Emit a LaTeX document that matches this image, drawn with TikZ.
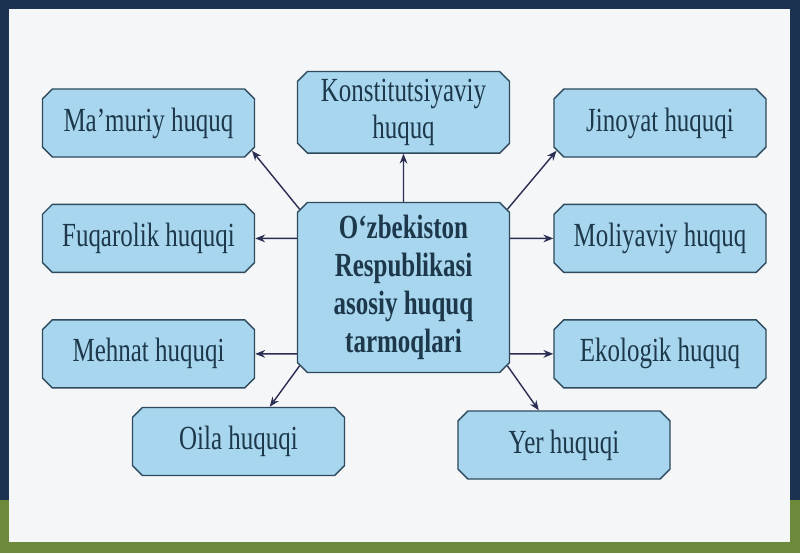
\documentclass[tikz,border=0pt]{standalone}
\usepackage{fontspec}
\setmainfont{Liberation Serif}[FakeStretch=0.74]
\usetikzlibrary{shapes.misc, positioning, arrows.meta}
\definecolor{boxFill}{RGB}{168,214,238}
\definecolor{boxLine}{RGB}{46,74,92}
\definecolor{boxText}{RGB}{28,56,74}
\definecolor{arrowLine}{RGB}{43,46,82}
\definecolor{slideNavy}{RGB}{27,50,80}
\definecolor{slideGreen}{RGB}{108,138,58}
\definecolor{slidePanel}{RGB}{244,246,248}
\tikzset{branch/.style = {chamfered rectangle, chamfered rectangle xsep=3.5pt,
    chamfered rectangle ysep=3.5pt, draw=boxLine, line width=1pt, fill=boxFill,
    text=boxText, minimum width=5.3cm, minimum height=1.7cm, inner sep=2pt,
    align=center, font=\fontsize{24}{26}\selectfont}}
\tikzset{hub/.style = {branch, minimum height=4.25cm,
    font=\fontsize{24}{27}\selectfont\bfseries}}
\tikzset{link/.style = {->, color=arrowLine, line width=1pt}}

\begin{document}
\begin{tikzpicture}[x=0.025cm, y=-0.025cm, node distance=1.15cm,
    >={Stealth[length=7pt,width=5.5pt]}]
      % slide frame
      \useasboundingbox (0,0) rectangle (800,553);
      \fill[slideNavy] (0,0) rectangle (800,553);
      \fill[slideGreen] (0,500) rectangle (800,553);
      \fill[slidePanel] (9,9) rectangle (790,542);

      \node[hub] (huquqTarmoqlari) at (403.5,287.5)
        {O‘zbekiston\\Respublikasi\\asosiy huquq\\tarmoqlari};
      \node[branch, minimum height=2cm] (konstitutsiya)
        [above = 1.2cm of huquqTarmoqlari] {Konstitutsiyaviy\\huquq};

      \node[branch] (mamuriy) at (148.5,123) {Ma’muriy huquq};
      \node[branch] (fuqarolik) [below = of mamuriy] {Fuqarolik huquqi};
      \node[branch] (mehnat) [below = of fuqarolik] {Mehnat huquqi};

      \node[branch] (jinoyat) at (660,123) {Jinoyat huquqi};
      \node[branch] (moliyaviy) [below = of jinoyat] {Moliyaviy huquq};
      \node[branch] (ekologik) [below = of moliyaviy] {Ekologik huquq};

      \node[branch] (oila) at (238.5,441.5) {Oila huquqi};
      \node[branch] (yer) at (564,445) {Yer huquqi};

      \path (huquqTarmoqlari.143) edge[link] (mamuriy.-15)
        (huquqTarmoqlari) edge[link] (konstitutsiya)
        (huquqTarmoqlari.37) edge[link] (jinoyat.195)
        (huquqTarmoqlari.west |- fuqarolik) edge[link] (fuqarolik)
        (huquqTarmoqlari.east |- moliyaviy) edge[link] (moliyaviy)
        (huquqTarmoqlari.west |- mehnat) edge[link] (mehnat)
        (huquqTarmoqlari.east |- ekologik) edge[link] (ekologik)
        (huquqTarmoqlari.217) edge[link] (oila.48)
        (huquqTarmoqlari.-37) edge[link] (yer.126);
    \end{tikzpicture}
\end{document}
